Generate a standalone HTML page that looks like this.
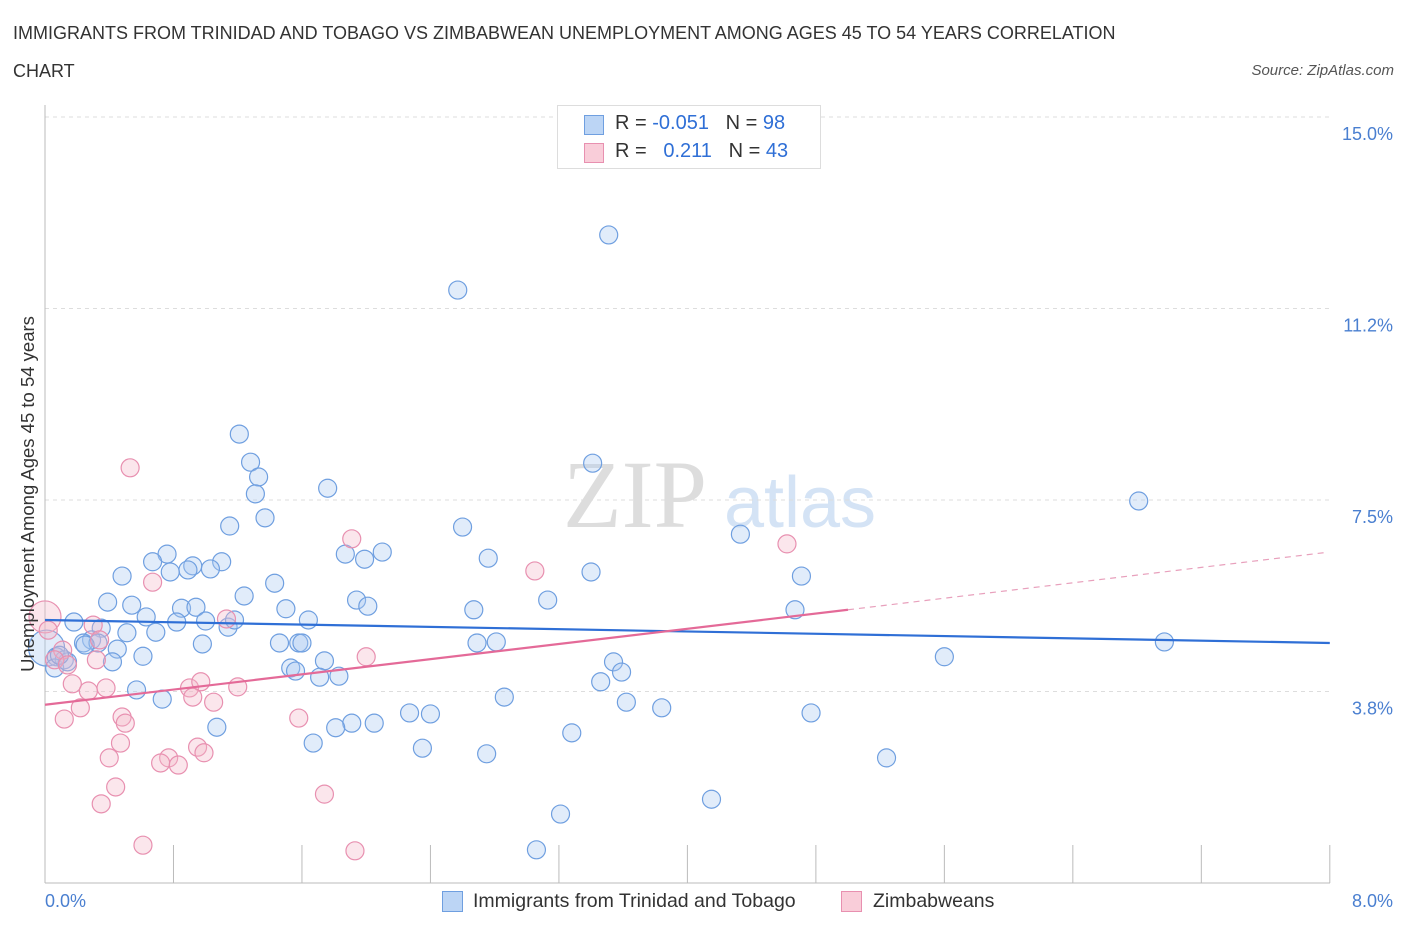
<!DOCTYPE html>
<html><head><meta charset="utf-8">
<style>
body{margin:0;background:#fff;font-family:"Liberation Sans",sans-serif;}
#c{position:relative;width:1406px;height:930px;overflow:hidden;}
.t{position:absolute;white-space:nowrap;}
</style></head>
<body>
<div id="c">
<div class="t" style="left:13px;top:14px;font-size:18px;color:#333;line-height:38px;">IMMIGRANTS FROM TRINIDAD AND TOBAGO VS ZIMBABWEAN UNEMPLOYMENT AMONG AGES 45 TO 54 YEARS CORRELATION<br>CHART</div>
<div class="t" style="right:12px;top:62px;font-size:15px;color:#555;font-style:italic;">Source: ZipAtlas.com</div>
<svg id="s" width="1406" height="930" style="position:absolute;left:0;top:0;"></svg>
</div>
<script>
const blueX=[3.51,2.57,1.21,1.28,1.33,1.31,1.76,3.41,6.81,1.37,1.15,2.60,4.33,0.76,0.67,2.10,1.87,1.99,2.76,1.10,0.92,0.89,1.03,0.78,0.48,3.40,4.71,1.43,1.24,0.39,0.54,1.94,2.01,3.13,2.67,0.85,0.94,1.50,0.63,0.82,1.00,1.64,4.67,0.18,1.14,1.18,0.35,0.51,0.69,0.29,0.24,0.33,0.98,1.46,1.58,1.60,2.69,2.81,6.97,0.45,0.61,0.07,0.12,0.42,1.74,1.53,1.56,3.54,3.59,5.60,1.71,1.83,3.46,0.57,2.86,0.73,3.62,3.84,2.27,2.40,4.77,1.07,1.91,2.05,1.81,3.28,1.67,2.35,2.75,5.24,4.15,3.21,3.06,0.06,0.14,0.09,0.25];
const blueY=[12.69,11.61,8.79,8.24,7.95,7.62,7.73,8.22,7.48,7.15,6.99,6.97,6.83,6.44,6.29,6.48,6.44,6.34,6.36,6.29,6.21,6.13,6.15,6.09,6.01,6.09,6.01,5.87,5.62,5.50,5.44,5.54,5.42,5.54,5.35,5.38,5.40,5.37,5.21,5.11,5.13,5.15,5.35,5.11,5.01,5.15,4.99,4.90,4.91,4.76,4.70,4.70,4.68,4.70,4.70,4.70,4.70,4.72,4.72,4.58,4.44,4.43,4.37,4.33,4.35,4.21,4.15,4.33,4.13,4.43,4.03,4.05,3.94,3.78,3.64,3.60,3.54,3.43,3.33,3.31,3.33,3.05,3.13,3.13,3.04,2.94,2.74,2.64,2.53,2.45,1.64,1.35,0.65,4.21,4.33,4.46,4.66];
const pinkX=[0.53,1.91,4.62,3.05,0.67,1.13,0.30,0.34,0.11,0.06,0.32,0.14,2.00,0.17,0.27,0.38,0.90,0.97,0.92,1.05,1.20,0.22,0.12,0.48,0.50,1.58,0.47,0.95,0.40,0.77,0.72,0.83,0.99,0.44,0.35,1.74,0.61,1.93,0.02];
const pinkY=[8.13,6.74,6.64,6.11,5.89,5.17,5.05,4.76,4.56,4.37,4.37,4.27,4.43,3.90,3.76,3.82,3.82,3.94,3.64,3.54,3.84,3.43,3.21,3.25,3.13,3.23,2.74,2.66,2.45,2.45,2.35,2.31,2.55,1.88,1.55,1.74,0.74,0.63,4.95];
const bigBlue=[[0.01,4.60]];
const bigPink=[[0.00,5.21]];
const blueTrend=[[0,5.15],[8.0,4.70]];
const pinkTrend=[[0,3.49],[5.0,5.35]];
const pinkDash=[[5.0,5.35],[7.97,6.47]];
const yTicks=[3.75,7.5,11.25,15.0];
const yTickLabels=["3.8%","7.5%","11.2%","15.0%"];
const xTicks=[0,0.8,1.6,2.4,3.2,4.0,4.8,5.6,6.4,7.2,8.0];

const X=v=>45+v*160.6, Y=v=>883-v*51.07;
const s=document.getElementById('s'),NS='http://www.w3.org/2000/svg';
function mk(t,a,p){const e=document.createElementNS(NS,t);for(const k in a)e.setAttribute(k,a[k]);(p||s).appendChild(e);return e;}
let w=mk('text',{x:635,y:527,'font-size':96,'font-family':'Liberation Serif',fill:'#ddd','text-anchor':'middle'});w.textContent='ZIP';


let w2=mk('text',{x:800,y:527,'font-size':72,'font-family':'Liberation Sans',fill:'#d4e3f5','text-anchor':'middle'});w2.textContent='atlas';


yTicks.forEach((v,i)=>{
 let g=mk('line',{x1:45,x2:1330,y1:Y(v),y2:Y(v),stroke:'#ddd','stroke-dasharray':'4,4'});
 
 
 let t=mk('text',{x:1393,y:Y(v)+23,'font-size':18,fill:'#4a7fd0','text-anchor':'end'});t.textContent=yTickLabels[i];
 
 
});
let ax=mk('line',{x1:45,x2:1330,y1:883,y2:883,stroke:'#bbb'});


let ay=mk('line',{x1:45,x2:45,y1:105,y2:883,stroke:'#bbb'});


xTicks.forEach(v=>{let l=mk('line',{x1:X(v),x2:X(v),y1:845,y2:883,stroke:'#bbb'});
 
 });
function dots(xs,ys,fill,stroke,name,r){xs.forEach((x,i)=>{let c=mk('circle',{cx:X(x),cy:Y(ys[i]),r:r,fill:fill,'fill-opacity':0.35,stroke:stroke,'stroke-width':1.2});
 
 });}
dots(bigBlue.map(d=>d[0]),bigBlue.map(d=>d[1]),'#a9c8f0','#6f9fe0','blue-point-large',18);
dots(bigPink.map(d=>d[0]),bigPink.map(d=>d[1]),'#f4b6c8','#e890b0','pink-point-large',16);
dots(blueX,blueY,'#a9c8f0','#6f9fe0','blue-point',9);
dots(pinkX,pinkY,'#f4b6c8','#e890b0','pink-point',9);
function line(d,col,dash,name,wd){let l=mk('line',{x1:X(d[0][0]),y1:Y(d[0][1]),x2:X(d[1][0]),y2:Y(d[1][1]),stroke:col,'stroke-width':wd});if(dash)l.setAttribute('stroke-dasharray',dash);
 
 }
line(blueTrend,'#2f6fd6',null,'blue-trend-line',2.2);
line(pinkTrend,'#e46a98',null,'pink-trend-line',2.2);
line(pinkDash,'#e8a0bc','6,5','pink-trend-extension',1.2);
</script>
<div class="t" style="left:45px;top:891px;font-size:18px;color:#4a7fd0;">0.0%</div>
<div class="t" style="right:13px;top:891px;font-size:18px;color:#4a7fd0;">8.0%</div>
<div class="t" style="left:28px;top:494px;font-size:18.5px;color:#333;transform:translate(-50%,-50%) rotate(-90deg);">Unemployment Among Ages 45 to 54 years</div>
<div style="position:absolute;left:557px;top:105px;width:262px;height:62px;border:1px solid #ddd;background:#fff;font-size:20px;">
 <div style="position:absolute;left:26px;top:9px;width:18px;height:18px;background:#bcd5f5;border:1px solid #6f9fe0;"></div>
 <div class="t" style="left:57px;top:6px;color:#333;">R = <span style="color:#2f6fd6">-0.051</span> &nbsp; N = <span style="color:#2f6fd6">98</span></div>
 <div style="position:absolute;left:26px;top:37px;width:18px;height:18px;background:#f9cdd9;border:1px solid #e890b0;"></div>
 <div class="t" style="left:57px;top:34px;color:#333;">R = &nbsp; <span style="color:#2f6fd6">0.211</span> &nbsp; N = <span style="color:#2f6fd6">43</span></div>
</div>
<div style="position:absolute;left:442px;top:891px;width:19px;height:19px;background:#bcd5f5;border:1px solid #6f9fe0;"></div>
<div class="t" style="left:473px;top:890px;font-size:19.5px;color:#333;">Immigrants from Trinidad and Tobago</div>
<div style="position:absolute;left:841px;top:891px;width:19px;height:19px;background:#f9cdd9;border:1px solid #e890b0;"></div>
<div class="t" style="left:873px;top:890px;font-size:19.5px;color:#333;">Zimbabweans</div>
</body></html>
